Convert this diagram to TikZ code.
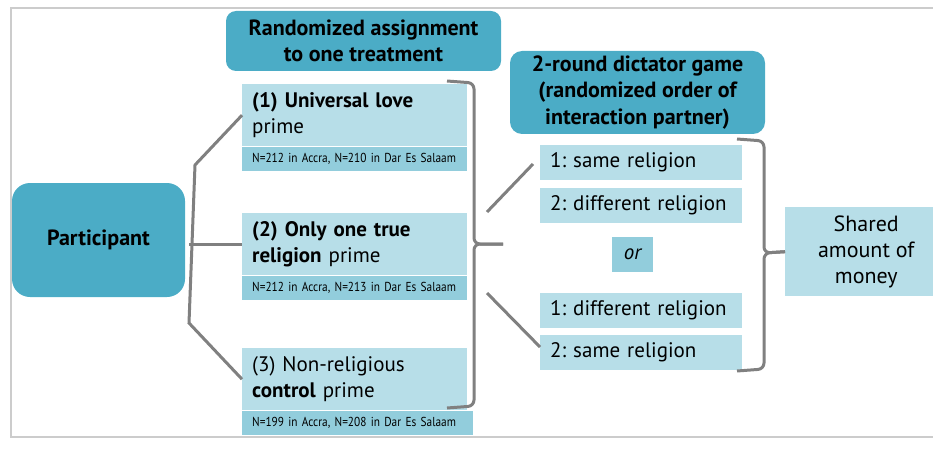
\documentclass[tikz,border=0pt]{standalone}
\usepackage{fontspec}
\setmainfont{PT Sans}
\newfontfamily\samplefont[FakeStretch=0.87]{PT Sans}
\frenchspacing
\usetikzlibrary{positioning}

\definecolor{headblue}{RGB}{75,172,198}
\definecolor{boxblue}{RGB}{183,222,232}
\definecolor{stripblue}{RGB}{146,205,220}
\definecolor{linegray}{RGB}{128,128,128}
\definecolor{framegray}{RGB}{204,204,204}

\tikzstyle{head} = [fill=headblue, align=center, inner sep=0pt,
    font=\fontsize{22}{26.5}\selectfont\bfseries]
\tikzstyle{prime} = [fill=boxblue, anchor=north west, minimum width=225pt,
    minimum height=62pt, text width=205pt, align=left,
    inner xsep=10pt, inner ysep=0pt, font=\fontsize{21}{26}\selectfont]
\tikzstyle{sample} = [fill=stripblue, anchor=north west, minimum width=225pt,
    minimum height=24pt, text width=205pt, align=left,
    inner xsep=10pt, inner ysep=0pt, font=\samplefont\fontsize{13}{14}\selectfont]
\tikzstyle{partner} = [fill=boxblue, anchor=north west, minimum width=202pt,
    minimum height=35pt, text width=182pt, align=left,
    inner xsep=10pt, inner ysep=0pt, font=\fontsize{21}{26}\selectfont]
\tikzstyle{link} = [draw=linegray, line width=3pt]
\tikzstyle{brace} = [link, rounded corners=6pt]

\begin{document}
\begin{tikzpicture}[x=1pt, y=-1pt]

    \useasboundingbox (0,0) rectangle (933,457);
    \clip (0,0) rectangle (933,457);

    % Frame
    \draw [framegray, line width=1.5pt] (11,8) rectangle (960,437);

    % Participant
    \node [head, rounded corners=18pt, minimum width=173pt,
        minimum height=114pt] (part) at (98.5,240) {Participant};

    % Treatment heading
    \node [head, rounded corners=10pt, minimum width=275pt,
        minimum height=60pt] (assign) at (363.5,41)
        {Randomized assignment\\to one treatment};

    % The three primes
    \node [prime] (love) at (242,84) {\textbf{(1) Universal love}\\prime};
    \node [sample] (lovesample) at (love.south west)
        {N=212 in Accra, N=210 in Dar Es Salaam};

    \node [prime] (rel) at (242,213) {\textbf{(2) Only one true}\\\textbf{religion} prime};
    \node [sample] (relsample) at (rel.south west)
        {N=212 in Accra, N=213 in Dar Es Salaam};

    \node [prime] (ctrl) at (242,348) {(3) Non-religious\\\textbf{control} prime};
    \node [sample, minimum width=231pt, text width=211pt] (ctrlsample)
        at (ctrl.south west) {N=199 in Accra, N=208 in Dar Es Salaam};

    % Dictator game heading
    \node [head, rounded corners=12pt, minimum width=255pt,
        minimum height=83pt] (game) at (637.5,92.5)
        {2-round dictator game\\(randomized order of\\interaction partner)};

    % Order of partners
    \node [partner] (same1) at (540,145) {1: same religion};
    \node [partner, below=7pt of same1] (diff2) {2: different religion};
    \node [fill=stripblue, minimum width=41pt, minimum height=35pt,
        inner sep=0pt, font=\fontsize{21}{26}\selectfont\itshape]
        (or) at (632.5,254.5) {or};
    \node [partner] (diff1) at (540,293) {1: different religion};
    \node [partner, below=6pt of diff1] (same2) {2: same religion};

    % Outcome
    \node [fill=boxblue, anchor=north west, minimum width=162pt,
        minimum height=89pt, align=center, inner sep=0pt,
        font=\fontsize{22}{26}\selectfont] (money) at (785,207)
        {Shared\\amount of\\money};

    % Fork from the participant
    \coordinate (forktop) at (195,165);
    \coordinate (forkbot) at (189,323);
    \draw [link] (love.west) -- (forktop) -- (forkbot) -- (ctrl.west);
    \draw [link] (rel.west -| forkbot) -- (rel.west);

    % Brace over the primes
    \coordinate (brace1) at (503,244);
    \draw [brace] (447,81) -- (474,83) -- (474,244) -- (brace1);
    \draw [brace] (brace1) -- (474,244) -- (474,406) -- (447,408);

    % Split into the two orders
    \coordinate (splittop) at (487,212);
    \coordinate (splitbot) at (487,293);
    \coordinate (sametop) at (533,164);
    \coordinate (sameend) at (540,347);
    \draw [link] (splittop) -- (sametop);
    \draw [link] (splitbot) -- (sameend);

    % Brace over the partners
    \draw [brace] (737,139) -- (764,141) -- (764,253) -- (money.west);
    \draw [brace] (money.west) -- (764,253) -- (764,369) -- (737,371);

\end{tikzpicture}
\end{document}
